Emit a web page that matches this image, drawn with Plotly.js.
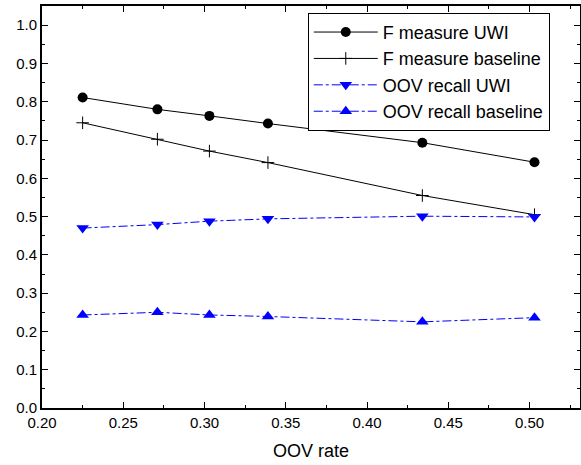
<!DOCTYPE html>
<html>
<head>
<meta charset="utf-8">
<script src="https://cdn.plot.ly/plotly-3.0.1.min.js"></script>
<style>html,body{margin:0;padding:0;background:#fff;}#chart{width:581px;height:465px;}</style>
</head>
<body>
<div id="chart"></div>
<script>
const oovRate = [0.225, 0.271, 0.303, 0.339, 0.434, 0.503];
const fUWI = [0.811, 0.780, 0.763, 0.743, 0.693, 0.642];
const fBaseline = [0.745, 0.702, 0.671, 0.641, 0.555, 0.505];
const oovUWI = [0.470, 0.479, 0.488, 0.494, 0.501, 0.499];
const oovBaseline = [0.243, 0.250, 0.243, 0.239, 0.225, 0.236];
const seriesNames = ["F measure UWI", "F measure baseline", "OOV recall UWI", "OOV recall baseline"];

const FONT = "Liberation Sans, Arial, sans-serif";

const traces = [
  {x: oovRate, y: fUWI, name: seriesNames[0], mode: "lines+markers",
   line: {color: "#000", width: 1}, marker: {symbol: "circle", size: 10, color: "#000"}},
  {x: oovRate, y: fBaseline, name: seriesNames[1], mode: "lines+markers",
   line: {color: "#000", width: 1}, marker: {symbol: "cross-thin", size: 9, color: "#000", line: {color: "#000", width: 1}}},
  {x: oovRate, y: oovUWI, name: seriesNames[2], mode: "lines+markers",
   line: {color: "#0000ff", width: 1, dash: "dashdot"}, marker: {symbol: "triangle-down", size: 11, color: "#0000ff"}},
  {x: oovRate, y: oovBaseline, name: seriesNames[3], mode: "lines+markers",
   line: {color: "#0000ff", width: 1, dash: "dashdot"}, marker: {symbol: "triangle-up", size: 11, color: "#0000ff"}}
];

const axisCommon = {
  showline: true, linecolor: "#000", linewidth: 2, mirror: "ticks",
  ticks: "inside", ticklen: 6, tickwidth: 1, tickcolor: "#000",
  showgrid: false, zeroline: false,
  tickfont: {family: FONT, size: 15, color: "#000"}
};

const layout = {
  width: 581, height: 465,
  margin: {l: 42, r: 1, t: 6, b: 57},
  paper_bgcolor: "#fff", plot_bgcolor: "#fff",
  font: {family: FONT, color: "#000"},
  showlegend: true,
  legend: {x: 0.494, y: 0.983, xanchor: "left", yanchor: "top",
    bordercolor: "#000", borderwidth: 1, bgcolor: "#fff",
    font: {family: FONT, size: 18, color: "#000"},
    itemwidth: 64, tracegroupgap: 0},
  xaxis: Object.assign({}, axisCommon, {
    range: [0.2, 0.531], dtick: 0.05, tick0: 0.2, tickformat: ".2f",
    minor: {dtick: 0.025, ticks: "inside", ticklen: 3, tickcolor: "#000"},
    title: {text: "OOV rate", font: {size: 18, family: FONT}, standoff: 14}
  }),
  yaxis: Object.assign({}, axisCommon, {
    range: [0, 1.05], dtick: 0.1, tick0: 0, tickformat: ".1f",
    minor: {dtick: 0.05, ticks: "inside", ticklen: 3, tickcolor: "#000"}
  })
};

Plotly.newPlot("chart", traces, layout, {displayModeBar: false, staticPlot: true});
</script>
</body>
</html>
